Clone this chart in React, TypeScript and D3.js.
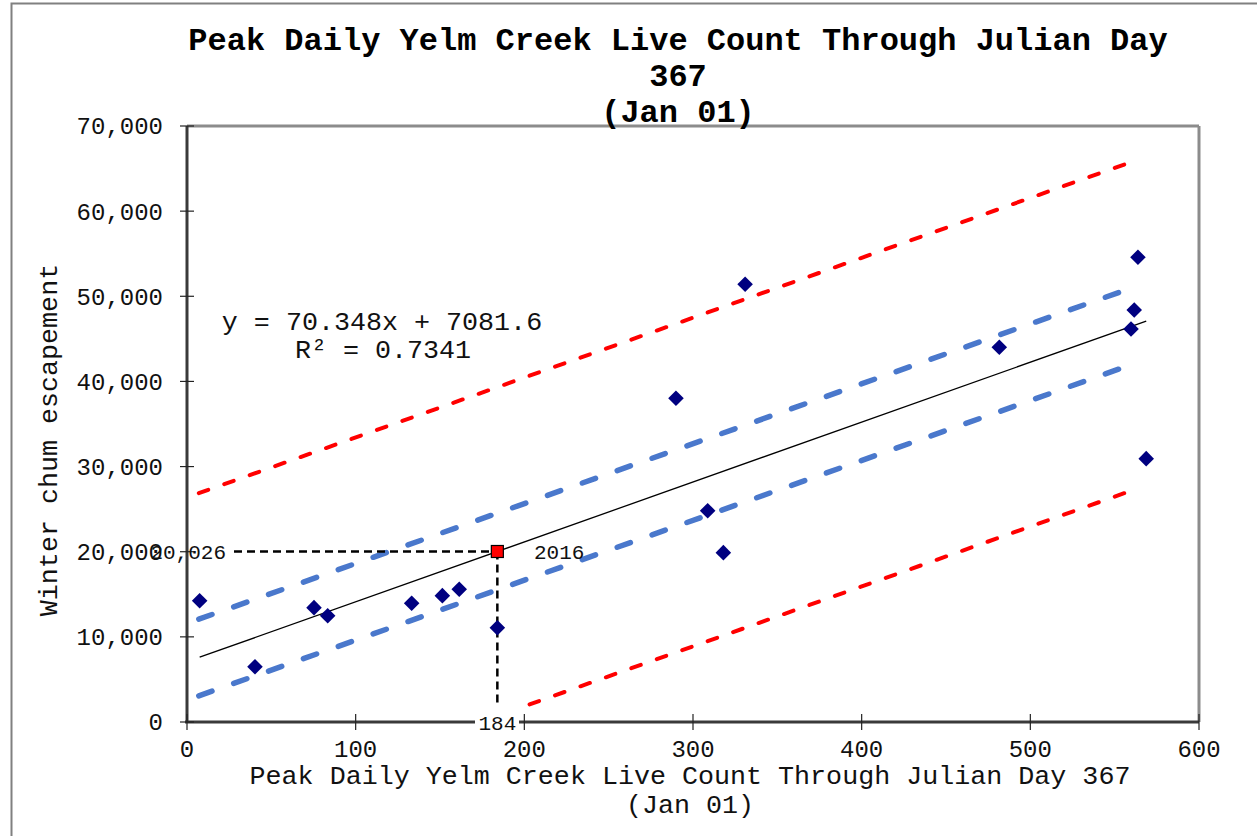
import React from "react";
import * as d3 from "d3";

// peak daily live count (x) vs winter chum escapement (y)
const liveCount = [7.5, 40.3, 75.3, 83.4, 133.2, 151.4, 161.4, 184, 289.9, 308.7, 318, 330.9, 481.6, 559.7, 561.6, 563.8, 568.7];
const escapement = [14250, 6500, 13430, 12490, 13940, 14840, 15590, 11070, 38020, 24820, 19890, 51410, 44010, 46160, 48390, 54580, 30930];

// 2016 highlighted point
const highlight = { year: "2016", count: 184, value: 20026 };

// trendline as given on the chart, plus band offsets
const slope = 70.348;
const intercept = 7081.6;
const r2 = 0.7341;
const innerBand = 4500;
const outerBand = 19300;
const bandRange = [7, 562];

const xTicks = [0, 100, 200, 300, 400, 500, 600];
const yTicks = [0, 10000, 20000, 30000, 40000, 50000, 60000, 70000];

const titleLines = ["Peak Daily Yelm Creek Live Count Through Julian Day", "367", "(Jan 01)"];
const xTitleLines = ["Peak Daily Yelm Creek Live Count Through Julian Day 367", "(Jan 01)"];
const yTitle = "Winter chum escapement";

const W = 1257;
const H = 836;
const plot = { left: 187, right: 1199, top: 126, bottom: 722 };
const font = "'Liberation Mono', 'Courier New', monospace";

export default function App() {
  const x = d3.scaleLinear().domain([0, 600]).range([plot.left, plot.right]);
  const y = d3.scaleLinear().domain([0, 70000]).range([plot.bottom, plot.top]);
  const fmt = d3.format(",");
  const trend = (v: number) => slope * v + intercept;

  const line = d3
    .line<number>()
    .x((d) => x(d))
    .y((d) => y(trend(d)));
  const band = (off: number) =>
    d3
      .line<number>()
      .x((d) => x(d))
      .y((d) => y(trend(d) + off))(bandRange) as string;

  const xExtent = d3.extent(liveCount) as [number, number];
  const hx = x(highlight.count);
  const hy = y(highlight.value);

  return (
    <svg width={W} height={H} style={{ position: "absolute", left: 0, top: 0, background: "#fff" }}>
      <defs>
        <clipPath id="plotClip">
          <rect x={plot.left} y={plot.top} width={plot.right - plot.left} height={plot.bottom - plot.top} />
        </clipPath>
      </defs>
      <rect x={11.5} y={3.5} width={W + 10} height={H + 10} fill="#fff" stroke="#808080" strokeWidth={2} />

      {/* plot frame */}
      <line x1={plot.left} x2={plot.right} y1={plot.top} y2={plot.top} stroke="#8c8c8c" strokeWidth={3} />
      <line x1={plot.right} x2={plot.right} y1={plot.top} y2={plot.bottom} stroke="#8c8c8c" strokeWidth={3} />

      {/* bands and trend */}
      <g clipPath="url(#plotClip)" fill="none">
        <path d={band(outerBand)} stroke="#ff0000" strokeWidth={4} strokeDasharray="10 17" strokeLinecap="round" />
        <path d={band(-outerBand)} stroke="#ff0000" strokeWidth={4} strokeDasharray="10 17" strokeLinecap="round" />
        <path d={band(innerBand)} stroke="#4a78cc" strokeWidth={5.5} strokeDasharray="14 23" strokeLinecap="round" />
        <path d={band(-innerBand)} stroke="#4a78cc" strokeWidth={5.5} strokeDasharray="14 23" strokeLinecap="round" />
        <path d={line(xExtent) as string} stroke="#000" strokeWidth={1.3} />
      </g>

      {/* axes */}
      <line x1={plot.left} x2={plot.left} y1={plot.top} y2={plot.bottom} stroke="#3a3a3a" strokeWidth={3} />
      <line x1={plot.left - 2} x2={plot.right} y1={plot.bottom} y2={plot.bottom} stroke="#3a3a3a" strokeWidth={3} />
      {yTicks.map((t) => (
        <g key={"y" + t}>
          <line x1={plot.left - 7} x2={plot.left + 7} y1={y(t)} y2={y(t)} stroke="#222" strokeWidth={1.2} />
          <text x={163} y={y(t)} dy="0.35em" textAnchor="end" fontFamily={font} fontSize={24} fill="#111">
            {fmt(t)}
          </text>
        </g>
      ))}
      {xTicks.map((t) => (
        <g key={"x" + t}>
          <line x1={x(t)} x2={x(t)} y1={plot.bottom - 8} y2={plot.bottom + 8} stroke="#222" strokeWidth={1.2} />
          <text x={x(t)} y={757} textAnchor="middle" fontFamily={font} fontSize={24} fill="#111">
            {t}
          </text>
        </g>
      ))}

      {/* 2016 guide lines */}
      <line x1={234} x2={hx} y1={hy} y2={hy} stroke="#000" strokeWidth={2.5} strokeDasharray="8 5" />
      <line x1={hx} x2={hx} y1={hy} y2={706} stroke="#000" strokeWidth={2.5} strokeDasharray="8 5" />

      {/* data points */}
      {liveCount.map((c, i) => (
        <rect
          key={i}
          x={x(c) - 5.5}
          y={y(escapement[i]) - 5.5}
          width={11}
          height={11}
          fill="#000080"
          transform={`rotate(45 ${x(c)} ${y(escapement[i])})`}
        />
      ))}
      <rect x={hx - 6} y={hy - 6} width={12} height={12} fill="#ff0000" stroke="#000" strokeWidth={1.2} />

      {/* annotation labels */}
      <text x={226} y={hy} dy="0.35em" textAnchor="end" fontFamily={font} fontSize={21} fill="#111">
        {fmt(highlight.value)}
      </text>
      <text x={534} y={hy} dy="0.35em" fontFamily={font} fontSize={21} fill="#111">
        {highlight.year}
      </text>
      <rect x={475} y={708} width={44} height={28} fill="#fff" />
      <text x={hx} y={730} textAnchor="middle" fontFamily={font} fontSize={21} fill="#111">
        {highlight.count}
      </text>

      {/* equation */}
      <text x={382} y={330} textAnchor="middle" fontFamily={font} fontSize={26.7} fill="#111">
        {`y = ${slope}x + ${intercept}`}
      </text>
      <text x={383} y={358} textAnchor="middle" fontFamily={font} fontSize={26.7} fill="#111">
        {`R² = ${r2}`}
      </text>

      {/* titles */}
      {titleLines.map((s, i) => (
        <text key={s} x={678} y={50 + i * 36} textAnchor="middle" fontFamily={font} fontWeight="bold" fontSize={32} fill="#000">
          {s}
        </text>
      ))}
      {xTitleLines.map((s, i) => (
        <text key={s} x={690} y={784 + i * 29} textAnchor="middle" fontFamily={font} fontSize={26.7} fill="#111">
          {s}
        </text>
      ))}
      <text
        transform={`translate(57,440) rotate(-90)`}
        textAnchor="middle"
        fontFamily={font}
        fontSize={26.7}
        fill="#111"
      >
        {yTitle}
      </text>
    </svg>
  );
}
